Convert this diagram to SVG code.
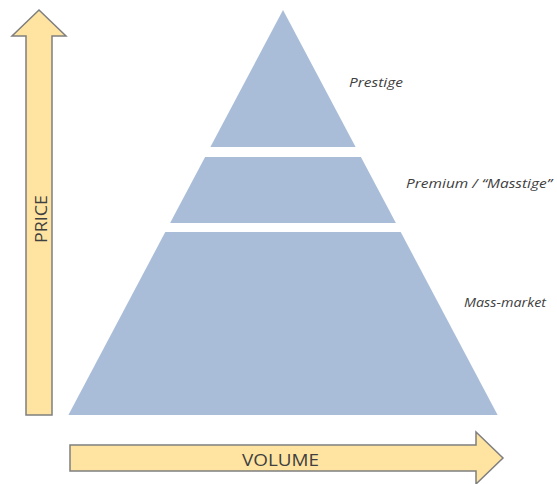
<svg xmlns="http://www.w3.org/2000/svg" width="557" height="484" viewBox="0 0 557 484">
  <style>
    .tier { fill: #A9BDD8; }
    .axis { fill: #FFE4A1; stroke: #7F7F7F; stroke-width: 1.5; stroke-linejoin: miter; }
    .axis-label { font-family: "Open Sans", "Noto Sans", "Liberation Sans", sans-serif; font-size: 17px; fill: #404040; }
    .tier-label { font-family: "Open Sans", "Noto Sans", "Liberation Sans", sans-serif; font-size: 13.5px; font-style: italic; fill: #404040; }
  </style>
  <rect width="557" height="484" fill="#FFFFFF"/>

  <!-- price axis (vertical block arrow) -->
  <g id="price-axis">
    <polygon class="axis" points="39,10 66,36 52,36 52,415 26,415 26,36 12,36"/>
    <text class="axis-label" transform="translate(46.5,219) rotate(-90)" text-anchor="middle" textLength="48" lengthAdjust="spacingAndGlyphs">PRICE</text>
  </g>

  <!-- volume axis (horizontal block arrow) -->
  <g id="volume-axis">
    <polygon class="axis" points="70,445 476,445 476,432 503,458 476,484 476,471 70,471"/>
    <text class="axis-label" x="280.5" y="466" text-anchor="middle" textLength="77" lengthAdjust="spacingAndGlyphs">VOLUME</text>
  </g>

  <!-- pyramid tiers -->
  <g id="tier-prestige">
    <polygon class="tier" points="283,10 355.6,147 210.4,147"/>
    <text class="tier-label" x="349" y="86.7" textLength="54" lengthAdjust="spacingAndGlyphs">Prestige</text>
  </g>
  <g id="tier-premium">
    <polygon class="tier" points="205.1,157 360.9,157 395.9,223 170.1,223"/>
    <text class="tier-label" x="406" y="188" textLength="146" lengthAdjust="spacingAndGlyphs">Premium / “Masstige”</text>
  </g>
  <g id="tier-mass-market">
    <polygon class="tier" points="165.3,232 400.7,232 497.6,415 68.4,415"/>
    <text class="tier-label" x="464" y="306.5" textLength="82" lengthAdjust="spacingAndGlyphs">Mass-market</text>
  </g>
</svg>
